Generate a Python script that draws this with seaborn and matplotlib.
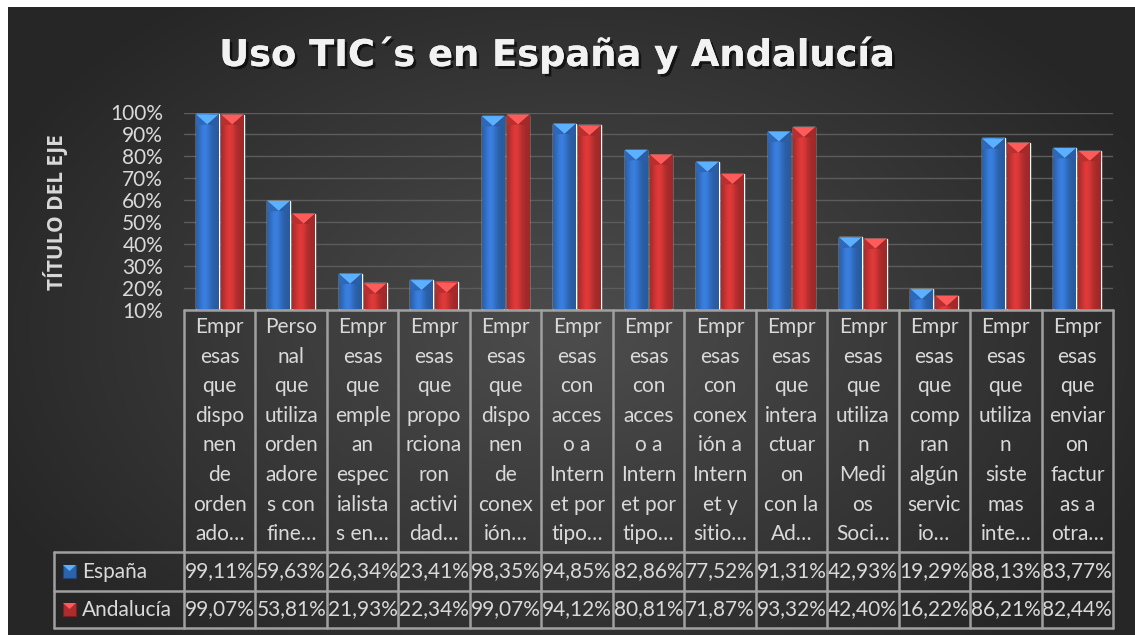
import numpy as np
import pandas as pd
import matplotlib
matplotlib.use("Agg")
import matplotlib.pyplot as plt
import matplotlib.patheffects as pe
from matplotlib.patches import Polygon, Rectangle
from matplotlib.transforms import blended_transform_factory
from matplotlib.colors import to_rgb
import seaborn as sns

# ---- data -------------------------------------------------------------
categories = [
    "Empr\nesas\nque\ndispo\nnen\nde\norden\nado…",
    "Perso\nnal\nque\nutiliza\norden\nadore\ns con\nfine…",
    "Empr\nesas\nque\nemple\nan\nespec\nialista\ns en…",
    "Empr\nesas\nque\npropo\nrciona\nron\nactivi\ndad…",
    "Empr\nesas\nque\ndispo\nnen\nde\nconex\nión…",
    "Empr\nesas\ncon\nacces\no a\nIntern\net por\ntipo…",
    "Empr\nesas\ncon\nacces\no a\nIntern\net por\ntipo…",
    "Empr\nesas\ncon\nconex\nión a\nIntern\net y\nsitio…",
    "Empr\nesas\nque\nintera\nctuar\non\ncon la\nAd…",
    "Empr\nesas\nque\nutiliza\nn\nMedi\nos\nSoci…",
    "Empr\nesas\nque\ncomp\nran\nalgún\nservic\nio…",
    "Empr\nesas\nque\nutiliza\nn\nsiste\nmas\ninte…",
    "Empr\nesas\nque\nenviar\non\nfactur\nas a\notra…",
]
series_names = ["España", "Andalucía"]
espana = [99.11, 59.63, 26.34, 23.41, 98.35, 94.85, 82.86, 77.52, 91.31, 42.93, 19.29, 88.13, 83.77]
andalucia = [99.07, 53.81, 21.93, 22.34, 99.07, 94.12, 80.81, 71.87, 93.32, 42.40, 16.22, 86.21, 82.44]
y_ticks = [10, 20, 30, 40, 50, 60, 70, 80, 90, 100]
title = "Uso TIC´s en España y Andalucía"
y_title = "TÍTULO DEL EJE"

df = pd.DataFrame({
    "col": list(range(len(categories))) * 2,
    "serie": [series_names[0]] * len(espana) + [series_names[1]] * len(andalucia),
    "valor": [v / 100 for v in espana + andalucia],
})

# ---- style ------------------------------------------------------------
sns.set_style("dark")
FONT = ["Lato", "DejaVu Sans"]
BOLD_FONT = ["Open Sans", "DejaVu Sans"]
plt.rcParams["font.family"] = FONT
TXT = "#d9d9d9"
LINE = "#a0a0a0"
BLUE = "#3474cc"
RED = "#cc3434"
FS = 15

W, H = 1135, 635
fig = plt.figure(figsize=(W / 100, H / 100), dpi=100, facecolor="white")


def fx(px):
    return px / W


def fy(py):
    return 1 - py / H


# dark radial background of the chart area (white frame on top/left)
yy_, xx_ = np.mgrid[0:H, 0:W]
r = np.sqrt(((xx_ - 571) / 640.0) ** 2 + ((yy_ - 330) / 420.0) ** 2)
r = np.clip(r, 0, 1)
c_in, c_out = np.array(to_rgb("#4d4d4d")), np.array(to_rgb("#262626"))
img = c_in[None, None, :] * (1 - r[..., None]) + c_out[None, None, :] * r[..., None]
img[:7, :, :] = 1.0
img[:, :8, :] = 1.0
fig.figimage(img, xo=0, yo=0, origin="upper", zorder=-10)

# plot area
ax_left, ax_right = 184, 1113
ax_top, ax_bottom = 112.5, 309.5
ax = fig.add_axes([fx(ax_left), fy(ax_bottom), fx(ax_right - ax_left), fy(ax_top) - fy(ax_bottom)])
ax.patch.set_alpha(0)

sns.barplot(data=df, x="col", y="valor", hue="serie", palette=[BLUE, RED],
            width=0.70, gap=0.09, saturation=1, legend=False, ax=ax, zorder=3)

ymin, ymax = 0.1, 1.0
cap = 10 / (ax_bottom - ax_top) * (ymax - ymin)

# shading and pyramid caps on each bar
for p in list(ax.patches):
    x0, w, h = p.get_x(), p.get_width(), p.get_height()
    base = np.array(p.get_facecolor()[:3])
    t = np.linspace(0, 1, 64)
    shade = 0.78 + 0.32 * np.exp(-((t - 0.38) / 0.28) ** 2)
    grad = np.clip(base[None, :] * shade[:, None], 0, 1)[None, :, :]
    im = ax.imshow(grad, extent=[x0, x0 + w, ymin, h], aspect="auto",
                   interpolation="bicubic", zorder=3.5)
    im.set_clip_path(p)
    light = np.clip(base * 1.35 + 0.08, 0, 1)
    ax.add_patch(Polygon([(x0, h), (x0 + w, h), (x0 + w / 2, h - cap)],
                         closed=True, facecolor=light, edgecolor="none", zorder=4))
    ax.add_patch(Polygon([(x0, h), (x0 + w / 2, h - cap), (x0, h - cap * 1.1)],
                         closed=True, facecolor=np.clip(base * 0.9, 0, 1), edgecolor="none", zorder=4))
    ax.add_patch(Polygon([(x0 + w, h), (x0 + w / 2, h - cap), (x0 + w, h - cap * 1.1)],
                         closed=True, facecolor=np.clip(base * 0.8, 0, 1), edgecolor="none", zorder=4))

ncol = len(categories)
ax.set_xlim(-0.5, ncol - 0.5)
ax.set_ylim(ymin, ymax)
ax.set_yticks([v / 100 for v in y_ticks])
ax.set_yticklabels([f"{v}%" for v in y_ticks], color=TXT, fontsize=FS)
ax.tick_params(axis="y", length=0, pad=15)
ax.set_xticks([])
ax.set_xlabel("")
ax.set_ylabel("")
ax.grid(axis="y", color="#5c5c5c", linewidth=1, zorder=1)
ax.grid(axis="x", visible=False)
for s in ax.spines.values():
    s.set_visible(False)

# axis title and chart title
fig.text(fx(56), fy(212), y_title, rotation=90, ha="center", va="center",
         fontsize=15, fontweight="bold", color=TXT, family=BOLD_FONT)
fig.text(fx(557), fy(55), title, ha="center", va="center", fontsize=26.5,
         fontweight="bold", color="#f2f2f2", family=["DejaVu Sans"],
         path_effects=[pe.withSimplePatchShadow(offset=(2, -2), shadow_rgbFace="black", alpha=0.6),
                       pe.Normal()])

# ---- data table -------------------------------------------------------
tr = blended_transform_factory(ax.transData, fig.transFigure)
row_tops = [309.5, 552, 591, 628]
lkw = dict(color=LINE, linewidth=1.8, clip_on=False, zorder=5)

for yy in row_tops:
    ax.plot([-0.5, ncol - 0.5], [fy(yy)] * 2, transform=tr, **lkw)
for k in range(ncol + 1):
    ax.plot([k - 0.5] * 2, [fy(309.5), fy(628)], transform=tr, **lkw)
# legend column
for yy in row_tops[1:]:
    fig.add_artist(plt.Line2D([fx(54), fx(184)], [fy(yy)] * 2, color=LINE, linewidth=1.8))
fig.add_artist(plt.Line2D([fx(54)] * 2, [fy(552), fy(628)], color=LINE, linewidth=1.8))

for i, lab in enumerate(categories):
    ax.text(i, fy(317), lab, transform=tr, ha="center", va="top", fontsize=FS,
            color=TXT, linespacing=1.6, clip_on=False)

row_centers = [571.5, 609.5]
for vals, yc in zip([espana, andalucia], row_centers):
    for i, v in enumerate(vals):
        ax.text(i, fy(yc), f"{v:.2f}".replace(".", ",") + "%", transform=tr,
                ha="center", va="center", fontsize=FS, color=TXT, clip_on=False)

# legend keys inside the table
for name, col, yc in zip(series_names, [BLUE, RED], row_centers):
    base = np.array(to_rgb(col))
    kx0, kx1 = 63, 76
    ky0, ky1 = yc - 6.5, yc + 6.5
    fig.add_artist(Rectangle((fx(kx0), fy(ky1)), fx(kx1 - kx0), fy(ky0) - fy(ky1),
                             transform=fig.transFigure, facecolor=base * 0.85,
                             edgecolor=np.clip(base * 0.6, 0, 1), linewidth=0.8))
    fig.add_artist(Polygon([(fx(kx0), fy(ky0)), (fx(kx1), fy(ky0)), (fx((kx0 + kx1) / 2), fy(ky0 + 6))],
                           closed=True, transform=fig.transFigure,
                           facecolor=np.clip(base * 1.35 + 0.08, 0, 1), edgecolor="none"))
    fig.text(fx(82), fy(yc), name, ha="left", va="center", fontsize=FS, color=TXT)

fig.savefig("out.png", dpi=100, facecolor=fig.get_facecolor())
